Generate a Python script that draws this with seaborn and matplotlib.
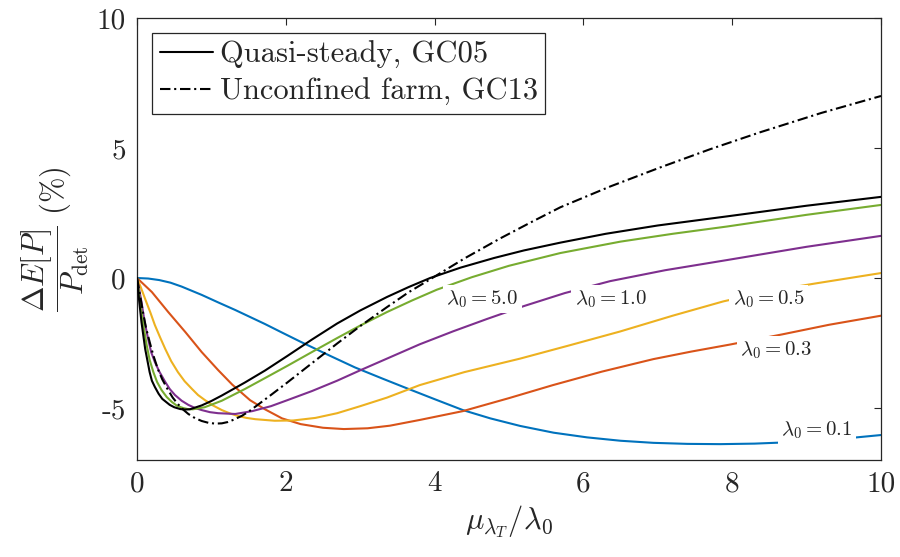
import numpy as np
import pandas as pd
import matplotlib
matplotlib.use("Agg")
import matplotlib.pyplot as plt
import seaborn as sns

# ---- data -------------------------------------------------------------
# lambda_0 = 0.1
x_l01 = [0, 0.15, 0.3, 0.45, 0.6, 0.87, 1.1, 1.32, 1.52, 1.72, 1.95, 2.19, 2.6, 2.93, 3.3, 3.59,
         4.0, 4.38, 4.75, 5.15, 5.6, 6.05, 6.5, 6.94, 7.4, 7.84, 8.3, 8.74, 9.2, 9.6, 10]
y_l01 = [0, -0.02, -0.08, -0.18, -0.33, -0.65, -0.95, -1.23, -1.5, -1.77, -2.1, -2.44, -3.0, -3.44, -3.87, -4.2,
         -4.66, -5.08, -5.4, -5.69, -5.95, -6.13, -6.26, -6.34, -6.38, -6.39, -6.37, -6.32, -6.24, -6.15, -6.04]

# lambda_0 = 0.3
x_l03 = [0, 0.2, 0.42, 0.65, 0.87, 1.09, 1.28, 1.52, 1.72, 1.95, 2.2, 2.5, 2.78, 3.1, 3.4, 3.8,
         4.38, 5.0, 5.59, 6.25, 6.94, 7.45, 7.97, 8.67, 9.3, 10]
y_l03 = [0, -0.54, -1.31, -2.08, -2.85, -3.54, -4.1, -4.7, -5.05, -5.4, -5.62, -5.76, -5.81, -5.78, -5.68, -5.46,
         -5.12, -4.62, -4.12, -3.6, -3.12, -2.83, -2.56, -2.17, -1.8, -1.45]

# lambda_0 = 0.5
x_l05 = [0, 0.05, 0.11, 0.18, 0.24, 0.31, 0.38, 0.46, 0.55, 0.64, 0.74, 0.82, 0.91, 1.02, 1.14, 1.25,
         1.36, 1.47, 1.59, 1.85, 2.1, 2.4, 2.69, 3.0, 3.36, 3.8, 4.4, 5.15, 5.8, 6.49, 7.2, 7.88,
         8.5, 9.14, 10]
y_l05 = [0, -0.35, -0.81, -1.33, -1.81, -2.28, -2.73, -3.2, -3.62, -3.97, -4.27, -4.5, -4.69, -4.9, -5.08, -5.21,
         -5.31, -5.38, -5.43, -5.49, -5.48, -5.38, -5.2, -4.93, -4.6, -4.12, -3.62, -3.1, -2.6, -2.06, -1.45, -0.9,
         -0.5, -0.2, 0.19]

# lambda_0 = 1.0
x_l10 = [0, 0.03, 0.06, 0.1, 0.15, 0.19, 0.24, 0.3, 0.38, 0.44, 0.51, 0.6, 0.69, 0.78, 0.87, 0.98,
         1.09, 1.32, 1.55, 1.8, 2.02, 2.35, 2.69, 3.0, 3.36, 3.8, 4.25, 4.7, 5.2, 5.75, 6.36, 7.1,
         7.93, 9.0, 10]
y_l10 = [0, -0.45, -0.92, -1.65, -2.35, -2.85, -3.23, -3.6, -4.0, -4.27, -4.5, -4.72, -4.88, -5.0, -5.08, -5.16,
         -5.2, -5.23, -5.12, -4.93, -4.7, -4.35, -3.95, -3.55, -3.1, -2.55, -2.05, -1.58, -1.08, -0.58, -0.12, 0.3,
         0.69, 1.2, 1.62]

# lambda_0 = 5.0
x_l50 = [0, 0.03, 0.06, 0.09, 0.13, 0.17, 0.22, 0.27, 0.33, 0.4, 0.47, 0.54, 0.62, 0.68, 0.75, 0.91,
         1.14, 1.45, 1.72, 2.02, 2.35, 2.69, 3.0, 3.36, 3.7, 4.03, 4.5, 5.0, 5.69, 6.5, 7.2, 7.93,
         9.0, 10]
y_l50 = [0, -0.65, -1.31, -1.9, -2.58, -3.15, -3.62, -4.0, -4.31, -4.58, -4.77, -4.92, -5.0, -5.04, -5.05, -4.97,
         -4.72, -4.27, -3.85, -3.38, -2.85, -2.31, -1.83, -1.31, -0.86, -0.45, 0.03, 0.47, 0.96, 1.4, 1.7, 1.98,
         2.43, 2.81]

# quasi-steady (GC05)
x_qs = [0, 0.03, 0.06, 0.11, 0.17, 0.2, 0.24, 0.29, 0.34, 0.44, 0.5, 0.58, 0.64, 0.71, 0.87, 1.0,
        1.14, 1.45, 1.72, 2.02, 2.35, 2.69, 3.0, 3.36, 3.65, 3.94, 4.35, 4.8, 5.2, 5.69, 6.3, 7.0,
        7.93, 9.0, 10]
y_qs = [0, -0.9, -1.69, -2.73, -3.62, -3.95, -4.19, -4.45, -4.65, -4.88, -4.97, -5.04, -5.06, -5.05, -4.9, -4.73,
        -4.52, -4.02, -3.56, -3.0, -2.37, -1.75, -1.25, -0.73, -0.35, 0.0, 0.4, 0.77, 1.06, 1.36, 1.7, 2.02,
        2.37, 2.78, 3.12]

# unconfined farm (GC13)
x_uf = [0, 0.04, 0.08, 0.12, 0.17, 0.22, 0.28, 0.34, 0.41, 0.48, 0.55, 0.62, 0.69, 0.78, 0.87, 0.96,
        1.05, 1.14, 1.22, 1.3, 1.41, 1.5, 1.59, 1.8, 2.02, 2.35, 2.69, 3.0, 3.36, 3.65, 3.94, 4.4,
        4.88, 5.3, 5.69, 6.36, 7.03, 7.7, 8.37, 9.2, 10]
y_uf = [0, -0.65, -1.31, -1.9, -2.46, -2.98, -3.5, -3.9, -4.27, -4.6, -4.85, -5.06, -5.23, -5.39, -5.5, -5.57,
        -5.6, -5.59, -5.54, -5.45, -5.3, -5.14, -4.95, -4.5, -4.02, -3.28, -2.52, -1.85, -1.12, -0.55, -0.05, 0.75,
        1.52, 2.15, 2.72, 3.52, 4.25, 4.95, 5.6, 6.35, 7.0]

lambda_labels = ["0.1", "0.3", "0.5", "1.0", "5.0"]
label_xy = [(9.14, -5.85), (8.59, -2.77), (8.49, -0.81), (6.37, -0.81), (4.64, -0.81)]

x_ticks = [0, 2, 4, 6, 8, 10]
y_ticks = [-5, 0, 5, 10]
y_ticklabels = ["-5", "0", "5", "10"]

# ---- style ------------------------------------------------------------
sns.set_style("white")
plt.rcParams["font.family"] = ["cmr10", "DejaVu Serif"]
plt.rcParams["mathtext.fontset"] = "cm"
plt.rcParams["axes.unicode_minus"] = False
plt.rcParams["axes.formatter.use_mathtext"] = True

ink = "#262626"
colors = ["#0072BD", "#D95319", "#EDB120", "#7E2F8E", "#77AC30"]

fig = plt.figure(figsize=(9.0, 5.57), dpi=100)
ax = fig.add_axes([137 / 900, 1 - 460 / 557, (881 - 137) / 900, (460 - 18) / 557])

series = [(x_l01, y_l01), (x_l03, y_l03), (x_l05, y_l05), (x_l10, y_l10), (x_l50, y_l50)]
for (xs, ys), c in zip(series, colors):
    df = pd.DataFrame({"x": xs, "y": ys})
    sns.lineplot(data=df, x="x", y="y", ax=ax, color=c, lw=1.5,
                 sort=False, estimator=None, zorder=2)

df_qs = pd.DataFrame({"x": x_qs, "y": y_qs})
df_uf = pd.DataFrame({"x": x_uf, "y": y_uf})
sns.lineplot(data=df_qs, x="x", y="y", ax=ax, color="black", lw=1.5,
             sort=False, estimator=None, zorder=3)
sns.lineplot(data=df_uf, x="x", y="y", ax=ax, color="black", lw=1.5,
             sort=False, estimator=None, zorder=3)
h_qs = ax.lines[-2]
h_uf = ax.lines[-1]
h_uf.set_linestyle((0, (5, 1.8, 1, 1.8)))
for ln in ax.lines:
    ln.set_solid_joinstyle("round")
    ln.set_dash_joinstyle("round")

# inline curve labels with white backing
for lab, (lx, ly) in zip(lambda_labels, label_xy):
    ax.text(lx, ly, r"$\lambda_0 = %s$" % lab, fontsize=15, ha="center", va="center",
            color=ink, zorder=4,
            bbox=dict(facecolor="white", edgecolor="none", pad=2.5))

ax.set_xlim(0, 10)
ax.set_ylim(-7, 10)
ax.set_xticks(x_ticks)
ax.set_xticklabels([str(t) for t in x_ticks])
ax.set_yticks(y_ticks)
ax.set_yticklabels(y_ticklabels)
ax.tick_params(direction="in", length=5, width=0.8, colors=ink, labelsize=21,
               top=True, right=True, pad=8)
for s in ax.spines.values():
    s.set_color(ink)
    s.set_linewidth(0.9)

ax.set_xlabel(r"$\mu_{\lambda_T}/\lambda_0$", fontsize=22, color=ink, labelpad=4)
ax.set_ylabel(r"$\dfrac{\Delta E[P]}{P_{\mathrm{det}}}\ (\%)$", fontsize=22, color=ink, labelpad=4)

leg = ax.legend([h_qs, h_uf], ["Quasi-steady, GC05", "Unconfined farm, GC13"],
                loc="upper left", fontsize=22, frameon=True, fancybox=False,
                framealpha=1, edgecolor=ink, handlelength=1.75, handletextpad=0.2,
                borderpad=0.25, labelspacing=0.3, borderaxespad=0.5)
leg.get_frame().set_linewidth(0.9)

fig.savefig("out.png", dpi=100)
